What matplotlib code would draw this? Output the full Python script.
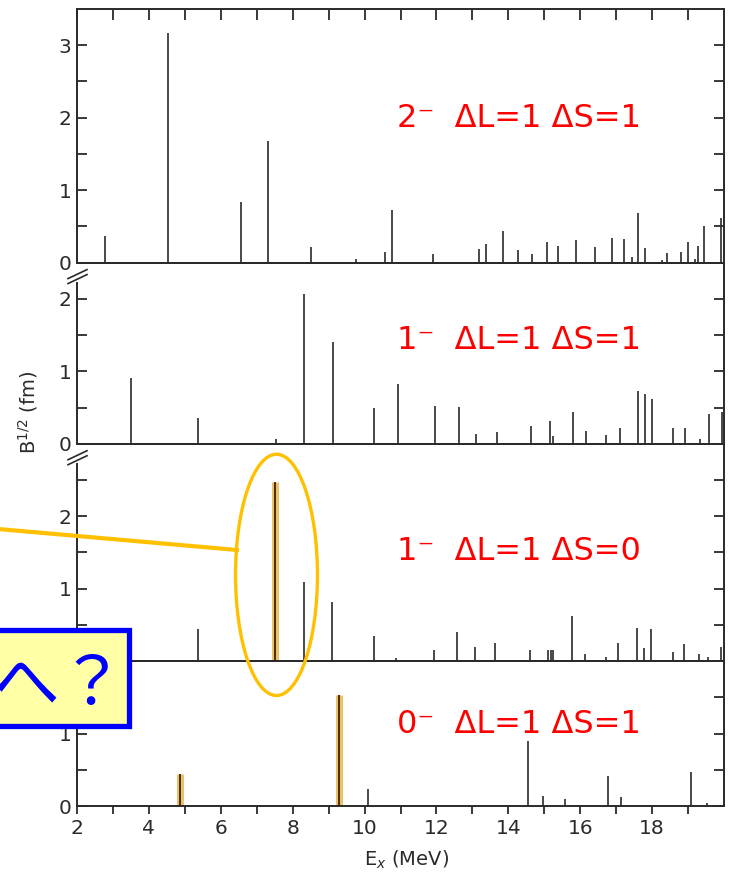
import matplotlib.pyplot as plt
from matplotlib.ticker import FixedLocator
from matplotlib.patches import Ellipse, Rectangle
from matplotlib.lines import Line2D
import numpy as np

# excitation energies (MeV) and B^1/2 (fm) for each multipole
e_2m = [2.79, 4.54, 6.55, 7.32, 8.52, 9.75, 10.58, 10.77, 11.90, 13.18, 13.39,
        13.86, 14.26, 14.66, 15.07, 15.38, 15.89, 16.40, 16.88, 17.23, 17.44,
        17.62, 17.81, 18.27, 18.42, 18.81, 18.99, 19.19, 19.29, 19.44, 19.93]
b_2m = [0.37, 3.17, 0.83, 1.68, 0.22, 0.05, 0.15, 0.73, 0.12, 0.19, 0.26,
        0.43, 0.18, 0.12, 0.28, 0.23, 0.31, 0.21, 0.34, 0.32, 0.08,
        0.68, 0.20, 0.04, 0.13, 0.15, 0.29, 0.05, 0.23, 0.51, 0.62]

e_1m_s1 = [3.50, 5.36, 7.53, 8.31, 9.12, 10.26, 10.94, 11.95, 12.64, 13.10,
           13.68, 14.64, 15.16, 15.23, 15.79, 16.16, 16.73, 17.10, 17.62,
           17.81, 17.99, 18.59, 18.92, 19.33, 19.58, 19.95]
b_1m_s1 = [0.91, 0.35, 0.06, 2.06, 1.41, 0.49, 0.82, 0.52, 0.51, 0.14,
           0.16, 0.24, 0.32, 0.11, 0.44, 0.17, 0.12, 0.22, 0.73,
           0.69, 0.62, 0.22, 0.22, 0.06, 0.41, 0.44]

e_1m_s0 = [5.38, 7.52, 8.31, 9.10, 10.25, 10.88, 11.93, 12.58, 13.06, 13.64,
           14.60, 15.10, 15.19, 15.25, 15.77, 16.12, 16.72, 17.05, 17.58,
           17.77, 17.97, 18.58, 18.89, 19.31, 19.55, 19.92]
b_1m_s0 = [0.44, 2.47, 1.09, 0.82, 0.35, 0.04, 0.15, 0.40, 0.19, 0.25,
           0.15, 0.15, 0.15, 0.15, 0.62, 0.10, 0.05, 0.25, 0.45,
           0.18, 0.44, 0.13, 0.23, 0.10, 0.05, 0.19]

e_0m = [4.86, 9.28, 10.10, 14.54, 14.97, 15.59, 16.76, 17.13, 19.09, 19.54]
b_0m = [0.44, 1.53, 0.24, 0.90, 0.14, 0.09, 0.42, 0.13, 0.47, 0.04]

# states marked in orange
hl_1m_s0 = [7.52]
hl_0m = [4.86, 9.28]

labels = ['2⁻  ΔL=1 ΔS=1', '1⁻  ΔL=1 ΔS=1', '1⁻  ΔL=1 ΔS=0', '0⁻  ΔL=1 ΔS=1']
ymax = [3.5, 2.5, 3.0, 2.0]

W, H = 729, 875
ink = '#2a2a2a'


def px(x, y):
    return x / W, 1 - y / H


fig = plt.figure(figsize=(W / 100, H / 100), dpi=100)
gs = fig.add_gridspec(4, 1, height_ratios=ymax, hspace=0,
                      left=77 / W, right=724 / W, bottom=1 - 806 / H, top=1 - 9 / H)
axes = [fig.add_subplot(gs[0])]
for i in range(1, 4):
    axes.append(fig.add_subplot(gs[i], sharex=axes[0]))

panels = [(e_2m, b_2m, []), (e_1m_s1, b_1m_s1, []),
          (e_1m_s0, b_1m_s0, hl_1m_s0), (e_0m, b_0m, hl_0m)]
text_y = [0.534, 0.525, 0.463, 0.503]

for i, (ax, (e, b, hl)) in enumerate(zip(axes, panels)):
    ax.set_facecolor('none')
    plain_e = [x for x in e if x not in hl]
    plain_b = [y for x, y in zip(e, b) if x not in hl]
    ax.vlines(plain_e, 0, plain_b, color=ink, lw=1.2)
    if hl:
        hl_b = [y for x, y in zip(e, b) if x in hl]
        ax.vlines(hl, 0, hl_b, color='#e8a83a', lw=5, alpha=0.75)
        ax.vlines(hl, 0, hl_b, color='#4a3205', lw=1.4)
    ax.set_xlim(2, 20)
    ax.set_ylim(0, ymax[i])
    ax.yaxis.set_major_locator(FixedLocator(np.arange(0, ymax[i] - 0.1, 1)))
    ax.yaxis.set_minor_locator(FixedLocator(np.arange(0.5, ymax[i] - 0.1, 1)))
    ax.tick_params(axis='y', which='both', direction='in', length=7, width=1.3,
                   left=True, right=True, colors=ink, labelsize=14.5, pad=4)
    for s in ax.spines.values():
        s.set_linewidth(1.4)
        s.set_color(ink)
    ax.text(10.9, ymax[i] * text_y[i], labels[i],
            color='#ff0000', fontsize=23, va='baseline', ha='left')
    if i > 0:
        # axis break below the panel above
        ax.spines['left'].set_bounds(0, ymax[i] - 0.28)

axes[0].set_xticks(range(2, 19, 2))
axes[0].xaxis.set_minor_locator(FixedLocator(range(3, 20, 2)))
for ax in axes:
    ax.tick_params(axis='x', which='both', bottom=False, top=False,
                   labelbottom=False)
axes[0].tick_params(axis='x', which='both', top=True, direction='in',
                    length=8, width=1.3, colors=ink)
axes[3].tick_params(axis='x', which='both', bottom=True, labelbottom=True,
                    direction='out', length=6, width=1.3, colors=ink,
                    labelsize=14.5, pad=3)

# break marks on the left axis
for ax in axes[1:]:
    pos = ax.get_position()
    xl = pos.x0 * W
    yt = (1 - pos.y1) * H
    for k in range(2):
        x0, y0 = px(xl - 9, yt + 16 + 5 * k)
        x1, y1 = px(xl + 10, yt + 7 + 5 * k)
        fig.add_artist(Line2D([x0, x1], [y0, y1], color=ink, lw=1.2))

fig.text(*px(28, 412), 'B$^{1/2}$ (fm)', rotation=90, ha='center', va='center',
         fontsize=14, color=ink)
fig.text(*px(407, 860), 'E$_x$ (MeV)', ha='center', va='center',
         fontsize=14, color=ink)

# callout
ell = Ellipse((7.55, 1.19), 2.28, 3.33, transform=axes[2].transData,
              fill=False, ec='#ffc000', lw=2.4, zorder=5)
fig.add_artist(ell)
x0, y0 = px(-2, 529)
x1, y1 = px(237, 550)
fig.add_artist(Line2D([x0, x1], [y0, y1], color='#ffc000', lw=3, zorder=5))

bx, by = px(-20, 726)
fig.add_artist(Rectangle((bx, by), 149 / W, 96 / H, transform=fig.transFigure,
                         fc='#ffffa6', ec='#0000ff', lw=3.8, zorder=6))
fig.text(*px(126, 705), 'へ？', color='#0000ff', fontsize=48, ha='right',
         va='baseline', family=['Noto Sans CJK JP', 'DejaVu Sans'], zorder=7)

fig.savefig('out.png', dpi=100)
